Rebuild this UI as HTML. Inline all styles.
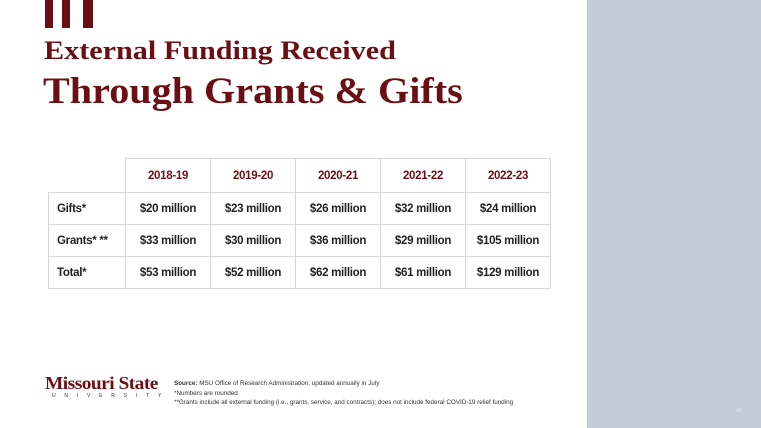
<!DOCTYPE html>
<html><head><meta charset="utf-8"><style>
*{margin:0;padding:0;box-sizing:border-box}
body{width:761px;height:428px;background:#fff;position:relative;overflow:hidden;font-family:"Liberation Sans",Arial,sans-serif}
.panel{position:absolute;left:587px;top:0;width:174px;height:428px;background:#c0ccd8}
.bar{position:absolute;top:0;height:28px;background:#6b0f14}
.t1{position:absolute;left:44px;top:36px;font-family:"Liberation Serif",serif;font-weight:bold;font-size:26px;color:#6b0f14;transform:scaleX(1.16);transform-origin:left top;white-space:nowrap}
.t2{position:absolute;left:43px;top:70px;font-family:"Liberation Serif",serif;font-weight:bold;font-size:37px;color:#6b0f14;transform:scaleX(1.085);transform-origin:left top;white-space:nowrap}
table{position:absolute;left:48px;top:158px;border-collapse:collapse;font-size:11.5px;font-weight:bold;color:#222}
td{border:1px solid #d8d8d8;text-align:center;height:32px;width:85px;letter-spacing:-0.3px}
td.l{width:77px;text-align:left;padding-left:8px}
tr.h td{height:34px;color:#6b0f14}
tr.h td.e{border-top:none;border-left:none}
.logo{position:absolute;left:45px;top:373px;font-family:"Liberation Serif",serif;font-weight:bold;font-size:18px;color:#6b0f14;letter-spacing:-0.5px;transform:scaleX(1.08);transform-origin:left top;white-space:nowrap}
.univ{position:absolute;left:52px;top:393px;font-size:5px;letter-spacing:8.8px;color:#333}
.fn{position:absolute;left:174px;font-size:6.3px;color:#333;white-space:nowrap}
</style></head><body>
<div class="panel"></div>
<div class="bar" style="left:45px;width:8px"></div>
<div class="bar" style="left:62px;width:8px"></div>
<div class="bar" style="left:83px;width:10px"></div>
<div class="t1">External Funding Received</div>
<div class="t2">Through Grants &amp; Gifts</div>
<table>
<tr class="h"><td class="l e"></td><td>2018-19</td><td>2019-20</td><td>2020-21</td><td>2021-22</td><td>2022-23</td></tr>
<tr><td class="l">Gifts*</td><td>$20 million</td><td>$23 million</td><td>$26 million</td><td>$32 million</td><td>$24 million</td></tr>
<tr><td class="l">Grants* **</td><td>$33 million</td><td>$30 million</td><td>$36 million</td><td>$29 million</td><td>$105 million</td></tr>
<tr><td class="l">Total*</td><td>$53 million</td><td>$52 million</td><td>$62 million</td><td>$61 million</td><td>$129 million</td></tr>
</table>
<div class="logo">Missouri State</div>
<div class="univ">UNIVERSITY</div>
<div class="fn" style="top:380px"><b>Source:</b> MSU Office of Research Administration; updated annually in July</div>
<div class="fn" style="top:390px">*Numbers are rounded</div>
<div class="fn" style="top:399px">**Grants include all external funding (i.e., grants, service, and contracts); does not include federal COVID-19 relief funding</div>
<div style="position:absolute;left:736px;top:408px;font-size:5px;color:#e8edf2">43</div>
</body></html>
